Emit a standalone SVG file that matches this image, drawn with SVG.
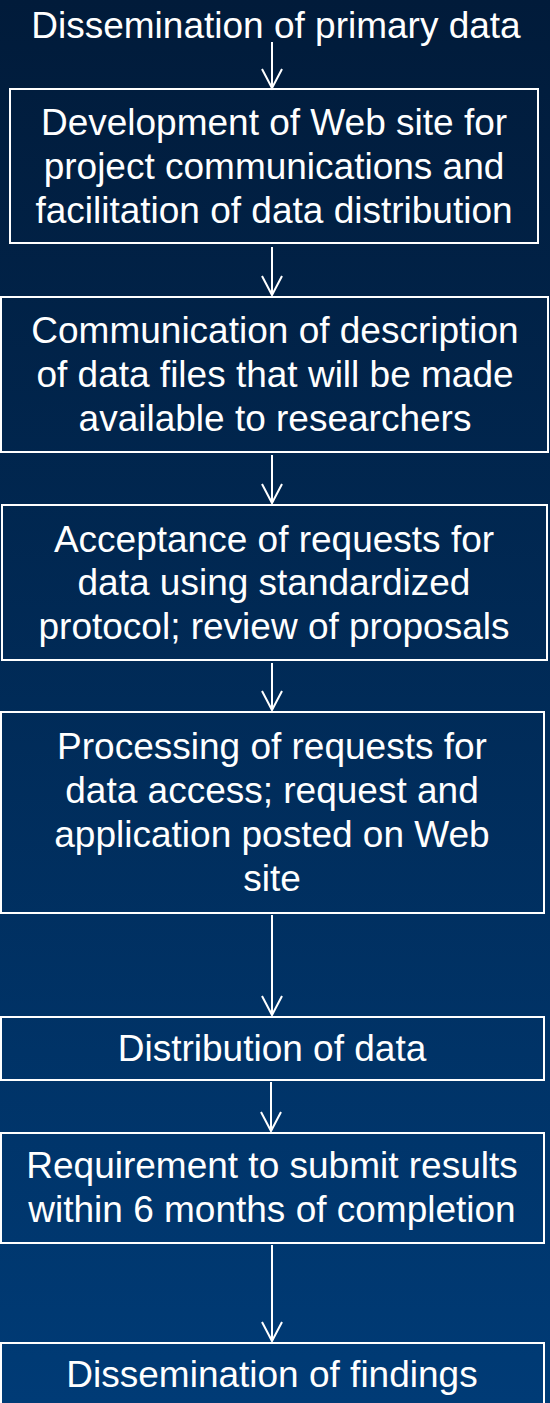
<svg xmlns="http://www.w3.org/2000/svg" width="550" height="1403" viewBox="0 0 550 1403">
<defs>
<linearGradient id="bg" x1="0" y1="0" x2="0" y2="1">
<stop offset="0" stop-color="#011b3a"/>
<stop offset="1" stop-color="#003b76"/>
</linearGradient>
<marker id="arr" markerUnits="userSpaceOnUse" markerWidth="24" markerHeight="24" viewBox="-22 -12 24 24" refX="0" refY="0" orient="auto" overflow="visible">
<path d="M-19,-10 L0,0 L-19,10" fill="none" stroke="#ffffff" stroke-width="2"/>
</marker>
<style>
.box{fill:none;stroke:#ffffff;stroke-width:2}
.t{font-family:"Liberation Sans",Arial,sans-serif;font-size:37px;fill:#ffffff;text-anchor:middle}
.c{stroke:#ffffff;stroke-width:2;fill:none}
</style>
</defs>
<rect x="0" y="0" width="550" height="1403" fill="url(#bg)"/>
<g id="title">
<text class="t" x="276" y="38">Dissemination of primary data</text>
</g>
<g id="connectors">
<path class="c" d="M272,42 V88" marker-end="url(#arr)"/>
<path class="c" d="M272,247 V295" marker-end="url(#arr)"/>
<path class="c" d="M272,455 V503" marker-end="url(#arr)"/>
<path class="c" d="M272,663 V710" marker-end="url(#arr)"/>
<path class="c" d="M272,915 V1015" marker-end="url(#arr)"/>
<path class="c" d="M271,1082 V1131" marker-end="url(#arr)"/>
<path class="c" d="M272,1245 V1341" marker-end="url(#arr)"/>
</g>
<g id="n1">
<rect class="box" x="10" y="89" width="528" height="154"/>
<text class="t" x="274" y="135">Development of Web site for</text>
<text class="t" x="274" y="179">project communications and</text>
<text class="t" x="274" y="223">facilitation of data distribution</text>
</g>
<g id="n2">
<rect class="box" x="1" y="297" width="547" height="155"/>
<text class="t" x="275" y="343">Communication of description</text>
<text class="t" x="275" y="387">of data files that will be made</text>
<text class="t" x="275" y="431">available to researchers</text>
</g>
<g id="n3">
<rect class="box" x="2" y="505" width="545" height="155"/>
<text class="t" x="274" y="552">Acceptance of requests for</text>
<text class="t" x="274" y="595">data using standardized</text>
<text class="t" x="274" y="639">protocol; review of proposals</text>
</g>
<g id="n4">
<rect class="box" x="1" y="712" width="543" height="201"/>
<text class="t" x="272" y="759">Processing of requests for</text>
<text class="t" x="272" y="803">data access; request and</text>
<text class="t" x="272" y="847">application posted on Web</text>
<text class="t" x="272" y="891">site</text>
</g>
<g id="n5">
<rect class="box" x="1" y="1017" width="543" height="63"/>
<text class="t" x="272" y="1061">Distribution of data</text>
</g>
<g id="n6">
<rect class="box" x="1" y="1133" width="543" height="110"/>
<text class="t" x="272" y="1178">Requirement to submit results</text>
<text class="t" x="272" y="1222">within 6 months of completion</text>
</g>
<g id="n7">
<rect class="box" x="1" y="1343" width="543" height="80"/>
<text class="t" x="272" y="1387">Dissemination of findings</text>
</g>
</svg>
